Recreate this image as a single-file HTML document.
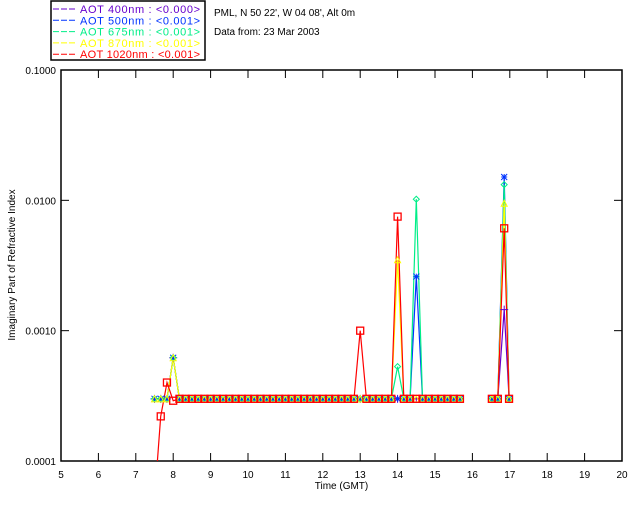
<!DOCTYPE html>
<html><head><meta charset="utf-8"><style>
html,body{margin:0;padding:0;background:#fff;}
svg{display:block;font-family:"Liberation Sans",sans-serif;}
</style></head><body>
<svg id="chart" width="640" height="512" viewBox="0 0 640 512">
<defs><clipPath id="plotclip"><rect x="61" y="70" width="561" height="391"/></clipPath></defs>
<g>
<rect x="51" y="1" width="154" height="59" fill="#fff" stroke="#000" stroke-width="1.5"/>
</g>
<text x="214" y="16" font-size="10">PML, N 50 22', W 04 08', Alt 0m</text>
<text x="214" y="35" font-size="10">Data from: 23 Mar 2003</text>
<g id="axes"></g>
<g id="series" clip-path="url(#plotclip)"></g>
<g id="markers" clip-path="url(#plotclip)"></g>
</svg>
<script>
// ---- data ----
const times1 = [7.5,7.667,7.833,8.0,8.167,8.333,8.5,8.667,8.833,9.0,9.167,9.333,9.5,9.667,9.833,10.0,10.167,10.333,10.5,10.667,10.833,11.0,11.167,11.333,11.5,11.667,11.833,12.0,12.167,12.333,12.5,12.667,12.833,13.0,13.167,13.333,13.5,13.667,13.833,14.0,14.167,14.333,14.5,14.667,14.833,15.0,15.167,15.333,15.5,15.667];
const times2 = [16.52,16.68,16.85,16.98];
const seriesNames = ["AOT  400nm : <0.000>","AOT  500nm : <0.001>","AOT  675nm : <0.001>","AOT  870nm : <0.001>","AOT 1020nm : <0.001>"];
const seriesColors = ["#6600cc","#0033ff","#00ee88","#ffff00","#ff0000"];
const b = 0.0003;
const purple1 = [0.0003,0.0003,0.0003,0.00062,b,b,b,b,b,b,b,b,b,b,b,b,b,b,b,b,b,b,b,b,b,b,b,b,b,b,b,b,b,b,b,b,b,b,b,b,b,b,b,b,b,b,b,b,b,b];
const blue1   = [0.0003,0.0003,0.0003,0.00062,b,b,b,b,b,b,b,b,b,b,b,b,b,b,b,b,b,b,b,b,b,b,b,b,b,b,b,b,b,b,b,b,b,b,b,b,b,b,0.0026,b,b,b,b,b,b,b];
const green1  = [0.0003,0.0003,0.0003,0.00062,b,b,b,b,b,b,b,b,b,b,b,b,b,b,b,b,b,b,b,b,b,b,b,b,b,b,b,b,b,b,b,b,b,b,b,0.00053,b,b,0.0102,b,b,b,b,b,b,b];
const yellow1 = [0.0003,0.0003,0.0003,0.00062,b,b,b,b,b,b,b,b,b,b,b,b,b,b,b,b,b,b,b,b,b,b,b,b,b,b,b,b,b,b,b,b,b,b,b,0.0035,b,b,b,b,b,b,b,b,b,b];
const red1    = [0.00005,0.00022,0.0004,0.00029,b,b,b,b,b,b,b,b,b,b,b,b,b,b,b,b,b,b,b,b,b,b,b,b,b,b,b,b,b,0.001,b,b,b,b,b,0.0075,b,b,b,b,b,b,b,b,b,b];
const purple2 = [0.0003,0.0003,0.00145,0.0003];
const blue2   = [0.0003,0.0003,0.0151,0.0003];
const green2  = [0.0003,0.0003,0.0132,0.0003];
const yellow2 = [0.0003,0.0003,0.0095,0.0003];
const red2    = [0.0003,0.0003,0.0061,0.0003];
const xTicks = [5,6,7,8,9,10,11,12,13,14,15,16,17,18,19,20];
const yTicks = [0.0001,0.001,0.01,0.1];
const yTickLabels = ["0.0001","0.0010","0.0100","0.1000"];

// ---- axes ----
const X0=61,X1=622,Y0=461,Y1=70;
const xs = t => X0 + (t-5)/(20-5)*(X1-X0);
const ys = v => Y0 - (Math.log10(v)+4)/3*(Y0-Y1);
const NS="http://www.w3.org/2000/svg";
function mk(tag, attrs, parent){const e=document.createElementNS(NS,tag);for(const k in attrs)e.setAttribute(k,attrs[k]);parent.appendChild(e);return e;}
const axes=document.getElementById('axes');
const frame=mk('rect',{x:X0,y:Y1,width:X1-X0,height:Y0-Y1,fill:'none',stroke:'#000','stroke-width':1.5},axes);


xTicks.forEach(t=>{
  const x=xs(t);
  const tk=mk('line',{x1:x,x2:x,y1:Y0,y2:Y0-8,stroke:'#000'},axes);
  
  
  const tt=mk('line',{x1:x,x2:x,y1:Y1,y2:Y1+8,stroke:'#000'},axes);
  
  
  const lb=mk('text',{x:x,y:Y0+17,'font-size':10,'text-anchor':'middle'},axes);
  lb.textContent=t;
  
  
});
yTicks.forEach((v,i)=>{
  const y=ys(v);
  const tk=mk('line',{x1:X0,x2:X0+8,y1:y,y2:y,stroke:'#000'},axes);
  
  
  const tr=mk('line',{x1:X1,x2:X1-8,y1:y,y2:y,stroke:'#000'},axes);
  
  
  const lb=mk('text',{x:X0-5,y:y+4,'font-size':10,'text-anchor':'end'},axes);
  lb.textContent=yTickLabels[i];
  
  
});
const xt=mk('text',{x:(X0+X1)/2,y:489,'font-size':10,'text-anchor':'middle'},axes);
xt.textContent='Time (GMT)';


const yt=mk('text',{x:0,y:0,'font-size':10,'text-anchor':'middle',transform:'translate(15,265) rotate(-90)'},axes);
yt.textContent='Imaginary Part of Refractive Index';



// ---- legend ----
const svg=document.getElementById('chart');
seriesNames.forEach((n,i)=>{
  const y=12+i*11.3;
  const ln=mk('line',{x1:53,x2:76,y1:y-3,y2:y-3,stroke:seriesColors[i],'stroke-dasharray':'6,2'},svg);
  
  
  const tx=mk('text',{x:80,y:y+1,'font-size':11,fill:seriesColors[i],'xml:space':'preserve',textLength:120,lengthAdjust:'spacing'},svg);
  tx.textContent=n;
  
  
});

// ---- series ----
const sg=document.getElementById('series');
const mg=document.getElementById('markers');
const all=[[purple1,purple2],[blue1,blue2],[green1,green2],[yellow1,yellow2],[red1,red2]];
const markerKinds=['plus','star','diamond','triangle','square'];
function marker(kind,x,y,c){
  let e;
  if(kind==='plus') e=mk('path',{d:`M${x-4},${y}H${x+4}M${x},${y-4}V${y+4}`,stroke:c,fill:'none'},mg);
  else if(kind==='star') e=mk('path',{d:`M${x-3},${y}H${x+3}M${x},${y-3}V${y+3}M${x-3},${y-3}L${x+3},${y+3}M${x-3},${y+3}L${x+3},${y-3}`,stroke:c,fill:'none'},mg);
  else if(kind==='diamond') e=mk('path',{d:`M${x},${y-3}L${x+3},${y}L${x},${y+3}L${x-3},${y}Z`,stroke:c,fill:'none'},mg);
  else if(kind==='triangle') e=mk('path',{d:`M${x},${y-3}L${x+3},${y+3}L${x-3},${y+3}Z`,stroke:c,fill:'none'},mg);
  else e=mk('rect',{x:x-3.5,y:y-3.5,width:7,height:7,stroke:c,fill:'none','stroke-width':1.3},mg);
  return e;
}
all.forEach((segs,si)=>{
  [[times1,segs[0]],[times2,segs[1]]].forEach(([ts,vs])=>{
    const pts=ts.map((t,i)=>xs(t).toFixed(1)+','+ys(vs[i]).toFixed(1)).join(' ');
    const pl=mk('polyline',{points:pts,fill:'none',stroke:seriesColors[si],'stroke-width':1.2},sg);
    
    
    ts.forEach((t,i)=>{
      const m=marker(markerKinds[si],xs(t),ys(vs[i]),seriesColors[si]);
      
      
    });
  });
});
</script>
</body></html>
